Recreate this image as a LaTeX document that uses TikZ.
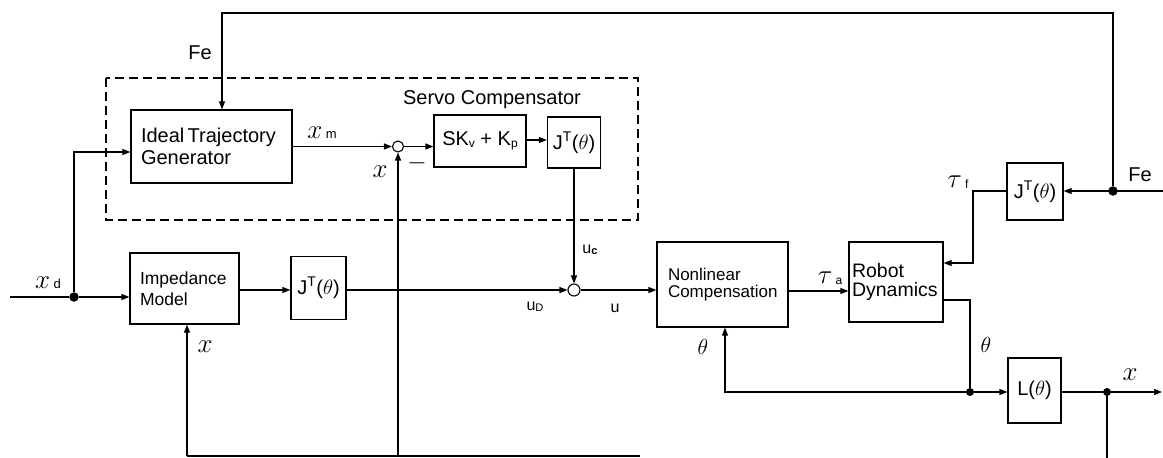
\documentclass[tikz,border=0pt]{standalone}
\usepackage{fontspec}
\usepackage{graphicx}
\setmainfont{Liberation Sans}
\usetikzlibrary{arrows.meta,calc}
\newcommand{\fs}[1]{\fontsize{#1}{#1}\selectfont}
\newcommand{\mybigmath}[1]{\fs{20}\scalebox{1.3}{$#1$}}
\tikzset{
  blk/.style={draw,line width=1.2pt,inner sep=0pt,minimum width=#1},
  txtbox/.style={draw,line width=1.2pt,inner xsep=10pt,inner ysep=0pt,align=left},
  sumc/.style={draw,circle,line width=1.1pt,minimum size=11pt,inner sep=0pt},
  dotc/.style={fill,circle,minimum size=9.5pt,inner sep=0pt},
  lab/.style={inner sep=0pt},
  conn/.style={line width=1.2pt},
  arr/.style={line width=1.2pt,-{Triangle[length=8pt,width=6pt]}},
}
\begin{document}
\begin{tikzpicture}[x=1pt,y=-1pt]
\useasboundingbox (0,0) rectangle (1163,458);
% dashed servo box
\draw[line width=1.1pt,dash pattern=on 9pt off 5pt] (106,78) rectangle (638,220);
\node[lab] (lservo) at (492,100) {\fs{20}Servo Compensator};
% blocks
\node[txtbox,minimum width=161pt,minimum height=73pt,text width=141pt] (itg) at (211.5,146.5) {\fs{20}Ideal Trajectory\\[3pt]\fs{20}Generator};
\node[txtbox,minimum width=109pt,minimum height=71pt,text width=89pt] (im) at (184.5,288.5) {\fs{17.5}Impedance\\[4pt]\fs{17.5}Model};
\node[blk=55pt,minimum height=63pt] (j1) at (318.5,288) {\fs{20}J\textsuperscript{T}($\theta$)};
\node[blk=92pt,minimum height=52pt] (sk) at (480,141) {\fs{20}SK\raisebox{-2pt}{\fs{12}v} + K\raisebox{-2pt}{\fs{12}p}};
\node[blk=53pt,minimum height=51pt] (j3) at (574,142.5) {\fs{20}J\textsuperscript{T}($\theta$)};
\node[txtbox,minimum width=129pt,minimum height=85pt,text width=109pt,inner xsep=11pt] (nc) at (722.5,284.5) {\fs{17}Nonlinear\\[4pt]\fs{17}Compensation};
\node[txtbox,minimum width=94pt,minimum height=80pt,text width=88pt,inner xsep=3pt] (rd) at (896,282) {\fs{19.5}Robot\\[3pt]\fs{19.5}Dynamics};
\node[blk=56pt,minimum height=57pt] (j2) at (1035,191.5) {\fs{20}J\textsuperscript{T}($\theta$)};
\node[blk=53pt,minimum height=65pt] (lb) at (1034.5,390.5) {\fs{20}L($\theta$)};
% junctions
\node[sumc] (s1) at (398,146.5) {};
\node[sumc,minimum size=12pt] (s2) at (574,290) {};
\node[dotc] (d1) at (74,297) {};
\node[dotc] (d2) at (1113,191) {};
\node[dotc,minimum size=8pt] (d3) at (970,392) {};
\node[dotc,minimum size=8pt] (d4) at (1107,392) {};
% coordinates
\coordinate (xin) at (10,297);
\coordinate (c1) at (74,152);
\coordinate (b1) at (187,456);
\coordinate (b2) at (398,456);
\coordinate (b3) at (640,456);
\coordinate (t1) at (222,13);
\coordinate (t2) at (1113,13);
\coordinate (fein) at (1163,191);
\coordinate (c2) at (973,191);
\coordinate (c2b) at (973,263);
\coordinate (c3) at (970,300);
\coordinate (c4) at (725,392);
\coordinate (xout) at (1162,392);
\coordinate (xdown) at (1107,458);
% connectors
\draw[conn] (xin) -- (d1);
\draw[arr] (d1) -- (d1 -| im.west);
\draw[arr] (d1) -- (c1) -- (c1 -| itg.west);
\draw[arr] (itg.east |- s1) -- (s1.west);
\draw[arr] (s1.east) -- (s1.east -| sk.west);
\draw[arr] (sk.east |- 0,140) -- (j3.west |- 0,140);
\draw[arr] (j3.south) -- (s2.north);
\draw[arr] (im.east |- 0,290) -- (j1.west |- 0,290);
\draw[arr] (j1.east |- s2) -- (s2.west);
\draw[arr] (s2.east) -- (s2.east -| nc.west);
\draw[arr] (nc.east |- 0,291) -- (rd.west |- 0,291);
\draw[conn] (b3) -- (b1);
\draw[arr] (b1) -- (b1 |- im.south);
\draw[arr] (b2) -- (s1.south);
\draw[arr] (d2) -- (t2) -- (t1) -- (t1 |- itg.north);
\draw[arr] (fein) -- (j2.east |- fein);
\draw[arr] (j2.west |- c2) -- (c2) -- (c2b) -- (c2b -| rd.east);
\draw[conn] (rd.east |- c3) -- (c3) -- (d3);
\draw[arr] (d3) -- (d3 -| lb.west);
\draw[arr] (d3) -- (c4) -- (c4 |- nc.south);
\draw[conn] (lb.east |- d4) -- (d4);
\draw[arr] (d4) -- (xout);
\draw[conn] (d4) -- (xdown);
% labels
\node[lab] (lfe1) at (200,53) {\fs{20}Fe};
\node[lab] (lxm) at (322,133) {\mybigmath{x}\,\fs{13}m};
\node[lab] (lx1) at (380,172) {\mybigmath{x}};
\node[lab] (lminus) at (417,163) {\fs{20}\scalebox{1.2}{$-$}};
\node[lab] (lxd) at (48,283) {\mybigmath{x}\,\fs{13}d};
\node[lab] (lx2) at (205,347) {\mybigmath{x}};
\node[lab] (luc) at (590,250) {\fs{16}u\raisebox{-1pt}{\fs{11}\bfseries c}};
\node[lab] (lud) at (535,307) {\fs{16}u\raisebox{-1pt}{\fs{11}D}};
\node[lab] (lu) at (615,308) {\fs{16}u};
\node[lab] (lta) at (830,278) {\mybigmath{\tau}\,\raisebox{-1pt}{\fs{12}a}};
\node[lab] (ltf) at (958,182) {\mybigmath{\tau}\,\raisebox{-1pt}{\fs{12}f}};
\node[lab] (lfe2) at (1140,175) {\fs{20}Fe};
\node[lab] (lth1) at (703,347) {\fs{20}\scalebox{1.05}{$\theta$}};
\node[lab] (lth2) at (986,345) {\fs{20}\scalebox{1.05}{$\theta$}};
\node[lab] (lx3) at (1130,375) {\mybigmath{x}};
\end{tikzpicture}
\end{document}
